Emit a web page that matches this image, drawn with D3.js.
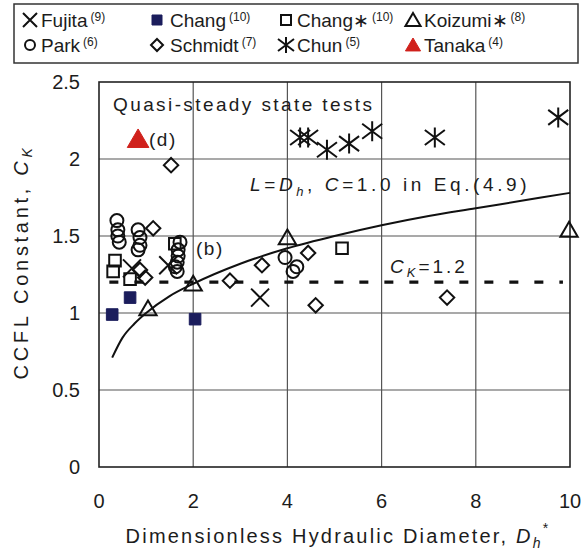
<!DOCTYPE html>
<html><head><meta charset="utf-8">
<script src="https://cdn.jsdelivr.net/npm/d3@7"></script>
<style>
body{margin:0;background:#fff}
svg{display:block}
text{font-family:"Liberation Sans",Arial,sans-serif;fill:#1c1c1c}
</style>
</head><body>
<svg id="chart" width="583" height="554"></svg>
<script>
// ---- axis ticks ----
const xTicks = [0, 2, 4, 6, 8, 10];
const xTickLabels = ["0", "2", "4", "6", "8", "10"];
const yTicks = [0, 0.5, 1, 1.5, 2, 2.5];
const yTickLabels = ["0", "0.5", "1", "1.5", "2", "2.5"];

// ---- measured CCFL constants per data source ----
const fujitaX = [0.70, 1.47, 3.42];
const fujitaY = [1.29, 1.31, 1.10];

const changX = [0.28, 0.66, 2.04];
const changY = [0.99, 1.10, 0.96];

const changStarX = [0.34, 0.30, 0.66, 1.61, 5.16];
const changStarY = [1.34, 1.27, 1.22, 1.45, 1.42];

const koizumiX = [1.04, 2.00, 4.00, 9.98];
const koizumiY = [1.03, 1.19, 1.49, 1.54];

const parkX = [0.38, 0.40, 0.40, 0.43, 0.83, 0.87, 0.87, 0.83, 1.72, 1.68, 1.68, 1.66, 1.62, 1.66, 3.95, 4.20, 4.12];
const parkY = [1.60, 1.54, 1.50, 1.46, 1.54, 1.49, 1.44, 1.41, 1.46, 1.41, 1.37, 1.33, 1.30, 1.27, 1.36, 1.30, 1.27];

const schmidtX = [1.53, 1.15, 0.87, 0.98, 2.78, 3.46, 4.44, 4.60, 7.39];
const schmidtY = [1.96, 1.55, 1.28, 1.23, 1.21, 1.31, 1.39, 1.05, 1.10];

const chunX = [4.27, 4.44, 4.84, 5.31, 5.80, 7.13, 9.75];
const chunY = [2.14, 2.14, 2.06, 2.10, 2.18, 2.14, 2.27];

const tanakaX = [0.83];
const tanakaY = [2.13];

// ---- correlation curve, L = Dh, C = 1.0 ----
const curveX = [0.28, 0.5, 0.75, 1, 1.5, 2, 3, 4, 5, 6, 7, 8, 9, 10];
const curveY = [0.71, 0.84, 0.93, 1.00, 1.11, 1.19, 1.32, 1.42, 1.50, 1.57, 1.63, 1.68, 1.73, 1.78];

// ---- constant CK line ----
const ckValue = 1.2;
const ckRangeX = [0.22, 9.85];

// ---- legend ----
const legendNames = ["Fujita", "Chang", "Chang\u2217", "Koizumi\u2217", "Park", "Schmidt", "Chun", "Tanaka"];
const legendRefs = ["(9)", "(10)", "(10)", "(8)", "(6)", "(7)", "(5)", "(4)"];
const legendShapes = ["times", "square", "square", "triangle", "circle", "diamond", "asterisk", "triangle"];
const legendFills = ["none", "#1b1d5c", "none", "none", "none", "none", "none", "#d0211c"];

const svg = d3.select("#chart");
const x = d3.scaleLinear().domain([0, 10]).range([99, 570]);
const y = d3.scaleLinear().domain([0, 2.5]).range([467, 82]);

// marker path builders (s = half-size)
const shapes = {
  circle: s => `M${s},0A${s},${s} 0 1,1 ${-s},0A${s},${s} 0 1,1 ${s},0Z`,
  square: s => `M${-s},${-s}H${s}V${s}H${-s}Z`,
  diamond: s => `M0,${-s}L${s},0L0,${s}L${-s},0Z`,
  triangle: s => `M0,${-s}L${s * 1.08},${s * 0.85}H${-s * 1.08}Z`,
  times: s => `M${-s},${-s}L${s},${s}M${-s},${s}L${s},${-s}`,
  asterisk: s => `M${-s},${-s * 0.75}L${s},${s * 0.75}M${-s},${s * 0.75}L${s},${-s * 0.75}M0,${-s}V${s}`
};
const sizes = {circle: 6.5, square: 5.8, diamond: 7.2, triangle: 8, times: 9, asterisk: 10};

// ---- grid ----
const grid = svg.append("g").attr("stroke", "#555").attr("stroke-width", 1.2);
grid.selectAll("line.gx").data(xTicks.slice(1, -1)).join("line")
  .attr("x1", d => x(d)).attr("x2", d => x(d)).attr("y1", y(0)).attr("y2", y(2.5));
grid.selectAll("line.gy").data(yTicks.slice(1, -1)).join("line")
  .attr("y1", d => y(d)).attr("y2", d => y(d)).attr("x1", x(0)).attr("x2", x(10));

svg.append("rect").attr("x", x(0)).attr("y", y(2.5))
  .attr("width", x(10) - x(0)).attr("height", y(0) - y(2.5))
  .attr("fill", "none").attr("stroke", "#222").attr("stroke-width", 1.6);

// ---- tick labels ----
svg.append("g").selectAll("text").data(xTicks).join("text")
  .attr("x", d => x(d)).attr("y", 508).attr("text-anchor", "middle")
  .attr("font-size", 20).text((d, i) => xTickLabels[i]);
svg.append("g").selectAll("text").data(yTicks).join("text")
  .attr("x", 80).attr("y", d => y(d) + 7).attr("text-anchor", "end")
  .attr("font-size", 20).text((d, i) => yTickLabels[i]);

// ---- axis titles ----
const xt = svg.append("text").attr("x", 338).attr("y", 543).attr("text-anchor", "middle")
  .attr("font-size", 20).attr("letter-spacing", 2.2);
xt.append("tspan").text("Dimensionless Hydraulic Diameter, ");
xt.append("tspan").attr("font-style", "italic").text("D");
xt.append("tspan").attr("font-style", "italic").attr("font-size", 14).attr("dy", 5).text("h");
xt.append("tspan").attr("font-size", 14).attr("dy", -15).text("*");

const yt = svg.append("text").attr("transform", "translate(28,262) rotate(-90)")
  .attr("text-anchor", "middle").attr("font-size", 20).attr("letter-spacing", 3.7);
yt.append("tspan").text("CCFL Constant, ");
yt.append("tspan").attr("font-style", "italic").text("C");
yt.append("tspan").attr("font-style", "italic").attr("font-size", 14).attr("dy", 4).text("K");

// ---- CK = 1.2 dashed line ----
svg.append("line").attr("x1", x(ckRangeX[0])).attr("x2", x(ckRangeX[1]))
  .attr("y1", y(ckValue)).attr("y2", y(ckValue))
  .attr("stroke", "#111").attr("stroke-width", 3.2).attr("stroke-dasharray", "9 16");

// ---- correlation curve ----
const line = d3.line().x(d => x(d[0])).y(d => y(d[1])).curve(d3.curveMonotoneX);
svg.append("path").datum(d3.zip(curveX, curveY)).attr("d", line)
  .attr("fill", "none").attr("stroke", "#111").attr("stroke-width", 2);

// ---- data markers ----
const series = [
  {xs: parkX, ys: parkY, shape: "circle", fill: "none"},
  {xs: schmidtX, ys: schmidtY, shape: "diamond", fill: "none"},
  {xs: changStarX, ys: changStarY, shape: "square", fill: "none"},
  {xs: fujitaX, ys: fujitaY, shape: "times", fill: "none"},
  {xs: koizumiX, ys: koizumiY, shape: "triangle", fill: "none"},
  {xs: chunX, ys: chunY, shape: "asterisk", fill: "none"},
  {xs: changX, ys: changY, shape: "square", fill: "#1b1d5c"},
  {xs: tanakaX, ys: tanakaY, shape: "triangle", fill: "#d0211c", size: 10}
];
series.forEach(s => {
  svg.append("g").selectAll("path").data(d3.zip(s.xs, s.ys)).join("path")
    .attr("transform", d => `translate(${x(d[0])},${y(d[1])})`)
    .attr("d", shapes[s.shape](s.size || sizes[s.shape]))
    .attr("fill", s.fill)
    .attr("stroke", s.fill === "none" ? "#111" : s.fill)
    .attr("stroke-width", s.fill === "none" ? 2 : 1);
});

// ---- annotations ----
svg.append("text").attr("x", 113).attr("y", 111).attr("font-size", 19)
  .attr("letter-spacing", 2.4).text("Quasi-steady state tests");
svg.append("text").attr("x", 149).attr("y", 146).attr("font-size", 19)
  .attr("letter-spacing", 1.5).text("(d)");
svg.append("text").attr("x", 196).attr("y", 255).attr("font-size", 19)
  .attr("letter-spacing", 1.5).text("(b)");

const eq = svg.append("text").attr("x", 250).attr("y", 191).attr("font-size", 19).attr("letter-spacing", 3.6);
eq.append("tspan").attr("font-style", "italic").text("L");
eq.append("tspan").text("=");
eq.append("tspan").attr("font-style", "italic").text("D");
eq.append("tspan").attr("font-style", "italic").attr("font-size", 13).attr("dy", 5).text("h");
eq.append("tspan").attr("dy", -5).text(", ");
eq.append("tspan").attr("font-style", "italic").text("C");
eq.append("tspan").text("=1.0 in Eq.(4.9)");

const ck = svg.append("text").attr("x", 390).attr("y", 273).attr("font-size", 19).attr("letter-spacing", 3);
ck.append("tspan").attr("font-style", "italic").text("C");
ck.append("tspan").attr("font-style", "italic").attr("font-size", 13).attr("dy", 4).text("K");
ck.append("tspan").attr("dy", -4).text("=1.2");

// ---- legend ----
svg.append("rect").attr("x", 14).attr("y", 4).attr("width", 564).attr("height", 59)
  .attr("fill", "#fff").attr("stroke", "#333").attr("stroke-width", 1.5);
const colMarker = [30, 157, 286, 413];
const colText = [41, 170, 297, 424];
legendNames.forEach((name, i) => {
  const row = Math.floor(i / 4), col = i % 4;
  const my = row === 0 ? 20 : 45;
  const shape = legendShapes[i];
  const lsize = {circle: 5, square: 5, diamond: 6, triangle: 7, times: 7, asterisk: 8}[shape];
  svg.append("path").attr("transform", `translate(${colMarker[col]},${my})`)
    .attr("d", shapes[shape](lsize))
    .attr("fill", legendFills[i])
    .attr("stroke", legendFills[i] === "none" ? "#111" : legendFills[i])
    .attr("stroke-width", legendFills[i] === "none" ? 2 : 1);
  const t = svg.append("text").attr("x", colText[col]).attr("y", my + 7).attr("font-size", 19);
  t.append("tspan").text(name);
  t.append("tspan").attr("dx", 3).attr("dy", -6).attr("font-size", 12).text(legendRefs[i]);
});
</script>
</body></html>
